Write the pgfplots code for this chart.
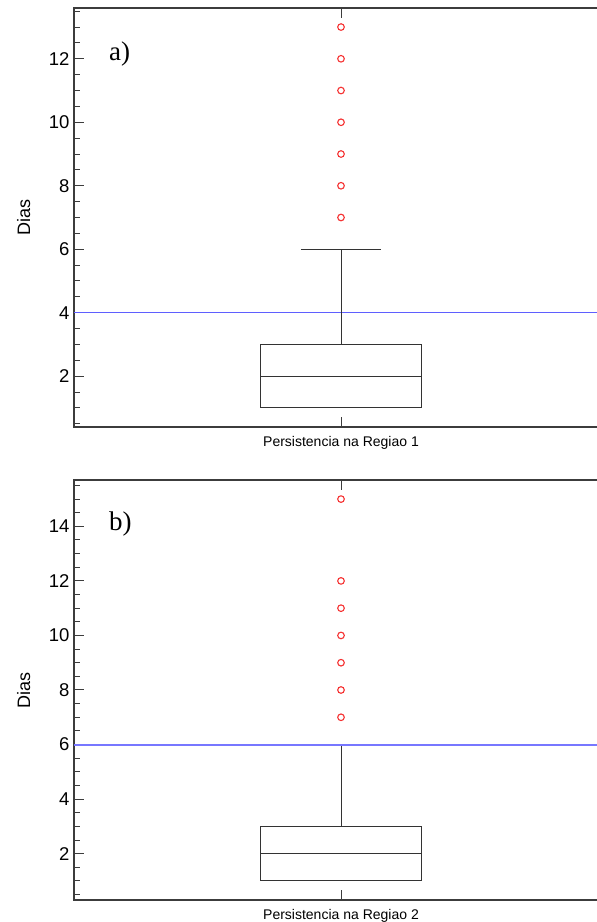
\documentclass[border=0pt]{standalone}
\usepackage{fontspec}
\setmainfont{Liberation Sans}
\newfontfamily\serifpanel{Liberation Serif}
\usepackage{pgfplots}
\pgfplotsset{compat=1.18}
\usepgfplotslibrary{statistics}

\definecolor{spine}{RGB}{60,60,60}
\definecolor{limline}{RGB}{95,95,255}
\definecolor{outl}{RGB}{245,50,50}

\pgfplotsset{
  boxpanel/.style={
    scale only axis,
    width=534pt, height=419pt,
    anchor=south west,
    xmin=0, xmax=2,
    xtick={1}, xticklabels={},
    ytick distance=2,
    minor y tick num=3,
    tick align=inside,
    major tick length=10pt,
    minor tick length=6pt,
    axis line style={spine, line width=1.3pt},
    every tick/.style={spine, line width=1pt},
    /pgf/number format/assume math mode=true,
    yticklabel style={font=\fontsize{18.5}{18.5}\selectfont, xshift=-1pt},
    ylabel={Dias},
    ylabel style={font=\fontsize{18}{18}\selectfont, at={(axis description cs:-0.094,0.5)}, anchor=center},
    xlabel style={font=\fontsize{14}{14}\selectfont, at={(axis description cs:0.5,0)}, anchor=north, inner sep=0pt, yshift=-9pt},
    clip=false,
  },
  boxstyle/.style={
    draw=black!80, line width=1pt, solid,
    mark=o, mark size=3.3pt,
    mark options={draw=outl, line width=1.1pt},
  },
}

\begin{document}
\begin{tikzpicture}
\useasboundingbox (0pt,0pt) rectangle (597pt,922pt);

% painel a
\begin{axis}[boxpanel, at={(74pt,495pt)}, ymin=0.4, ymax=13.6,
  xlabel={Persistencia na Regiao 1}]
\addplot[limline, line width=1.1pt] coordinates {(0,4) (2,4)};
\addplot[boxstyle, boxplot prepared={draw direction=y, lower whisker=1, lower quartile=1,
  median=2, upper quartile=3, upper whisker=6,
  draw position=1, box extend=0.6, whisker extend=0.3}]
  table[row sep=\\, y index=0, header=false] {7\\8\\9\\10\\11\\12\\13\\};
\end{axis}
\node[anchor=base west, font=\serifpanel\fontsize{27}{27}\selectfont, inner sep=0pt] at (109pt,861pt) {a)};

% painel b
\begin{axis}[boxpanel, at={(74pt,22pt)}, height=420pt, ymin=0.3, ymax=15.7,
  xlabel={Persistencia na Regiao 2}]
\addplot[boxstyle, boxplot prepared={draw direction=y, lower whisker=1, lower quartile=1,
  median=2, upper quartile=3, upper whisker=6,
  draw position=1, box extend=0.6, whisker extend=0.3}]
  table[row sep=\\, y index=0, header=false] {7\\8\\9\\10\\11\\12\\15\\};
\addplot[limline!85!white, line width=2pt] coordinates {(0,6) (2,6)};
\end{axis}
\node[anchor=base west, font=\serifpanel\fontsize{27}{27}\selectfont, inner sep=0pt] at (109pt,391pt) {b)};
\end{tikzpicture}
\end{document}
